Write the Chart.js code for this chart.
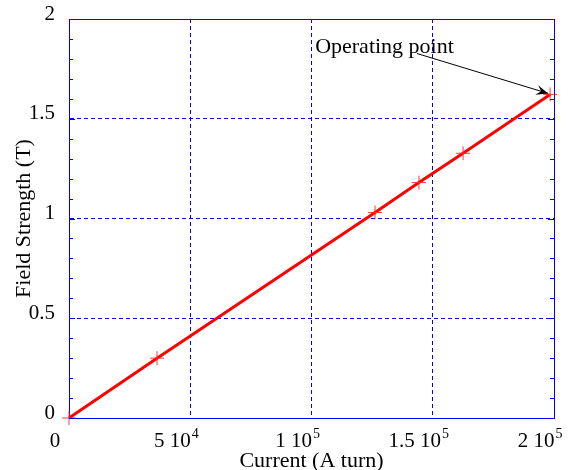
<!DOCTYPE html>
<html>
<head>
<meta charset="utf-8">
<script src="https://cdn.jsdelivr.net/npm/chart.js@4/dist/chart.umd.min.js"></script>
<style>
html,body{margin:0;padding:0;background:#fff;}
#wrap{width:571px;height:470px;position:relative;}
</style>
</head>
<body>
<div id="wrap"><canvas id="c" width="571" height="470"></canvas></div>
<script>
// Data
const currentValues = [0, 36300, 126200, 144300, 162500, 198400];
const fieldValues   = [0, 0.30, 1.03, 1.18, 1.327, 1.622];
const xTickValues = [0, 50000, 100000, 150000, 200000];
const xTickMant   = ['0', '5', '1', '1.5', '2'];
const xTickExp    = ['', '4', '5', '5', '5'];
const yTickValues = [0, 0.5, 1, 1.5, 2];
const annotationText = 'Operating point';
const annotationTextAt = [101500, 1.832];   // text anchor (data units)
const annotationArrowFrom = [143500, 1.827]; // arrow start (data units)
const annotationArrowTo = [198400, 1.622];   // operating point

const FONT = '"Liberation Serif", "Times New Roman", serif';

const extras = {
  id: 'extras',
  afterDraw(chart) {
    const ctx = chart.ctx;
    const xs = chart.scales.x, ys = chart.scales.y;
    const a = chart.chartArea;
    ctx.save();
    // solid frame on top and right
    ctx.strokeStyle = '#0000ff';
    ctx.lineWidth = 1;
    ctx.beginPath();
    ctx.moveTo(Math.round(a.left) + 0.5, Math.round(a.top) + 0.5);
    ctx.lineTo(Math.round(a.right) + 0.5, Math.round(a.top) + 0.5);
    ctx.lineTo(Math.round(a.right) + 0.5, Math.round(a.bottom) + 0.5);
    ctx.stroke();
    // minor ticks on y (left & right, inward)
    for (let i = 0; i <= 20; i++) {
      const v = i / 10;
      const py = Math.round(ys.getPixelForValue(v)) + 0.5;
      const len = (i % 5 === 0) ? 6 : 4;
      ctx.beginPath();
      ctx.moveTo(a.left, py); ctx.lineTo(a.left + len, py);
      ctx.moveTo(a.right, py); ctx.lineTo(a.right - len, py);
      ctx.stroke();
    }
    // x tick labels with superscript exponents
    ctx.fillStyle = '#000';
    ctx.textBaseline = 'alphabetic';
    for (let i = 0; i < xTickValues.length; i++) {
      const px = xs.getPixelForValue(xTickValues[i]) - 14;
      ctx.font = '21px ' + FONT;
      const m = xTickMant[i] + (xTickExp[i] ? ' 10' : '');
      const mw = ctx.measureText(m).width;
      ctx.font = '14px ' + FONT;
      const ew = xTickExp[i] ? ctx.measureText(xTickExp[i]).width + 1 : 0;
      const total = mw + ew;
      const x0 = px - total / 2;
      ctx.font = '21px ' + FONT;
      ctx.textAlign = 'left';
      ctx.fillText(m, x0, 447);
      if (xTickExp[i]) {
        ctx.font = '14px ' + FONT;
        ctx.fillText(xTickExp[i], x0 + mw + 1, 438);
      }
    }
    // annotation
    ctx.font = '22px ' + FONT;
    ctx.textAlign = 'left';
    ctx.fillText(annotationText, xs.getPixelForValue(annotationTextAt[0]), ys.getPixelForValue(annotationTextAt[1]));
    const x1 = xs.getPixelForValue(annotationArrowFrom[0]), y1 = ys.getPixelForValue(annotationArrowFrom[1]);
    const x2 = xs.getPixelForValue(annotationArrowTo[0]) - 2, y2 = ys.getPixelForValue(annotationArrowTo[1]) - 1;
    ctx.strokeStyle = '#000'; ctx.lineWidth = 1;
    ctx.beginPath(); ctx.moveTo(x1, y1); ctx.lineTo(x2, y2); ctx.stroke();
    const ang = Math.atan2(y2 - y1, x2 - x1);
    const L = 12, W = 5;
    ctx.fillStyle = '#000';
    ctx.beginPath();
    ctx.moveTo(x2, y2);
    ctx.lineTo(x2 - L * Math.cos(ang) + W * Math.sin(ang), y2 - L * Math.sin(ang) - W * Math.cos(ang));
    ctx.lineTo(x2 - 0.6 * L * Math.cos(ang), y2 - 0.6 * L * Math.sin(ang));
    ctx.lineTo(x2 - L * Math.cos(ang) - W * Math.sin(ang), y2 - L * Math.sin(ang) + W * Math.cos(ang));
    ctx.closePath(); ctx.fill();
    ctx.restore();
  }
};

new Chart(document.getElementById('c'), {
  type: 'scatter',
  data: {
    datasets: [{
      data: currentValues.map((x, i) => ({x: x, y: fieldValues[i]})),
      showLine: true,
      borderColor: '#ff0000',
      borderWidth: 3,
      pointStyle: 'cross',
      pointRadius: 7,
      pointBorderWidth: 1,
      pointBorderColor: 'rgba(255,40,40,0.9)',
      pointBackgroundColor: 'rgba(255,40,40,0.9)',
      tension: 0
    }]
  },
  options: {
    responsive: false,
    animation: false,
    clip: false,
    layout: {padding: {top: 19, right: 17, left: 0, bottom: 0}},
    plugins: {legend: {display: false}, tooltip: {enabled: false}},
    scales: {
      x: {
        type: 'linear', min: 0, max: 200000,
        afterBuildTicks(s) { s.ticks = xTickValues.map(v => ({value: v})); },
        afterFit(s) { s.height = 52; s.paddingLeft = 0; s.paddingRight = 0; },
        border: {display: true, color: '#0000ff', width: 1, dash: [4, 3]},
        grid: {color: '#0000ff', lineWidth: 1, drawTicks: false, tickLength: 0},
        ticks: {display: false},
        title: {display: true, text: 'Current (A turn)', color: '#000',
                font: {family: FONT, size: 22}, padding: {top: 0, bottom: -4}}
      },
      y: {
        type: 'linear', min: 0, max: 2,
        afterBuildTicks(s) { s.ticks = yTickValues.map(v => ({value: v})); },
        afterFit(s) { s.width = 69; s.paddingTop = 0; s.paddingBottom = 0; },
        border: {display: true, color: '#0000ff', width: 1, dash: [4, 3]},
        grid: {color: '#0000ff', lineWidth: 1, drawTicks: false},
        ticks: {color: '#000', font: {family: FONT, size: 21}, padding: 14,
                labelOffset: -5, callback: v => String(v)},
        title: {display: true, text: 'Field Strength (T)', color: '#000',
                font: {family: FONT, size: 22}, padding: {top: 11, bottom: 0}}
      }
    }
  },
  plugins: [extras]
});
</script>
</body>
</html>
